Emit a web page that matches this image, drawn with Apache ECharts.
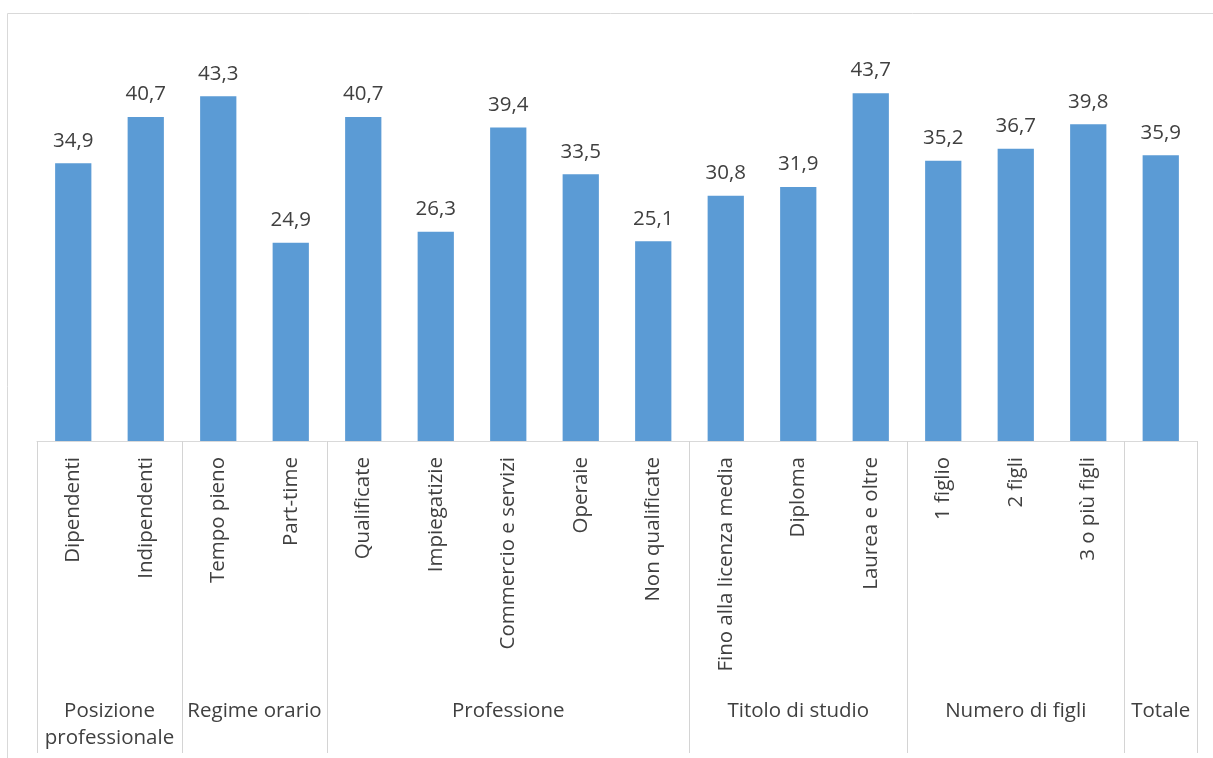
<!DOCTYPE html>
<html><head><meta charset="utf-8">
<script src="https://cdn.jsdelivr.net/npm/echarts@6/dist/echarts.min.js"></script>
<style>html,body{margin:0;padding:0;background:#fff}#c{width:1213px;height:758px}</style>
</head><body><div id="c"></div>
<script>
var categories = ['Dipendenti','Indipendenti','Tempo pieno','Part-time','Qualificate','Impiegatizie','Commercio e servizi','Operaie','Non qualificate','Fino alla licenza media','Diploma','Laurea e oltre','1 figlio','2 figli','3 o più figli',''];
var values = [34.9,40.7,43.3,24.9,40.7,26.3,39.4,33.5,25.1,30.8,31.9,43.7,35.2,36.7,39.8,35.9];
var groupNames = ['Posizione\nprofessionale','Regime orario','Professione','Titolo di studio','Numero di figli','Totale'];
var groupSizes = [2,2,5,3,3,1];

var bounds=[0], centers=[], acc=0;
groupSizes.forEach(function(s){centers.push(acc+s/2); acc+=s; bounds.push(acc);});
var font = '"Open Sans", sans-serif';
var chart = echarts.init(document.getElementById('c'));
chart.setOption({
  animation:false,
  grid:{left:37,right:16,top:43,bottom:317,containLabel:false},
  graphic:[{type:'rect',shape:{x:7.5,y:13.5,width:1230,height:780},style:{fill:'none',stroke:'#D9D9D9',lineWidth:1},silent:true}],
  xAxis:[{
    type:'category',data:categories,
    axisLine:{lineStyle:{color:'#D9D9D9'}},
    axisTick:{show:false},
    axisLabel:{rotate:90,interval:0,margin:16,color:'#404040',fontFamily:font,fontSize:20.5}
  },{
    type:'value',min:0,max:groupSizes.reduce(function(a,b){return a+b;},0),position:'bottom',
    axisLine:{show:false},splitLine:{show:false},
    axisTick:{show:true,customValues:bounds,length:312,lineStyle:{color:'#D4D4D4'}},
    axisLabel:{customValues:centers,margin:257,color:'#404040',fontFamily:font,fontSize:20.5,lineHeight:27,
      formatter:function(v){var i=centers.indexOf(v);return i>=0?groupNames[i]:'';}}
  }],
  yAxis:{type:'value',min:0,max:50,show:false,splitLine:{show:false}},
  series:[{
    type:'bar',data:values,barWidth:'50%',xAxisIndex:0,
    itemStyle:{color:'#5B9BD5'},
    label:{show:true,position:'top',distance:12,color:'#404040',fontFamily:font,fontSize:20.5,
      formatter:function(p){return p.value.toFixed(1).replace('.',',');}}
  }]
});
</script></body></html>
